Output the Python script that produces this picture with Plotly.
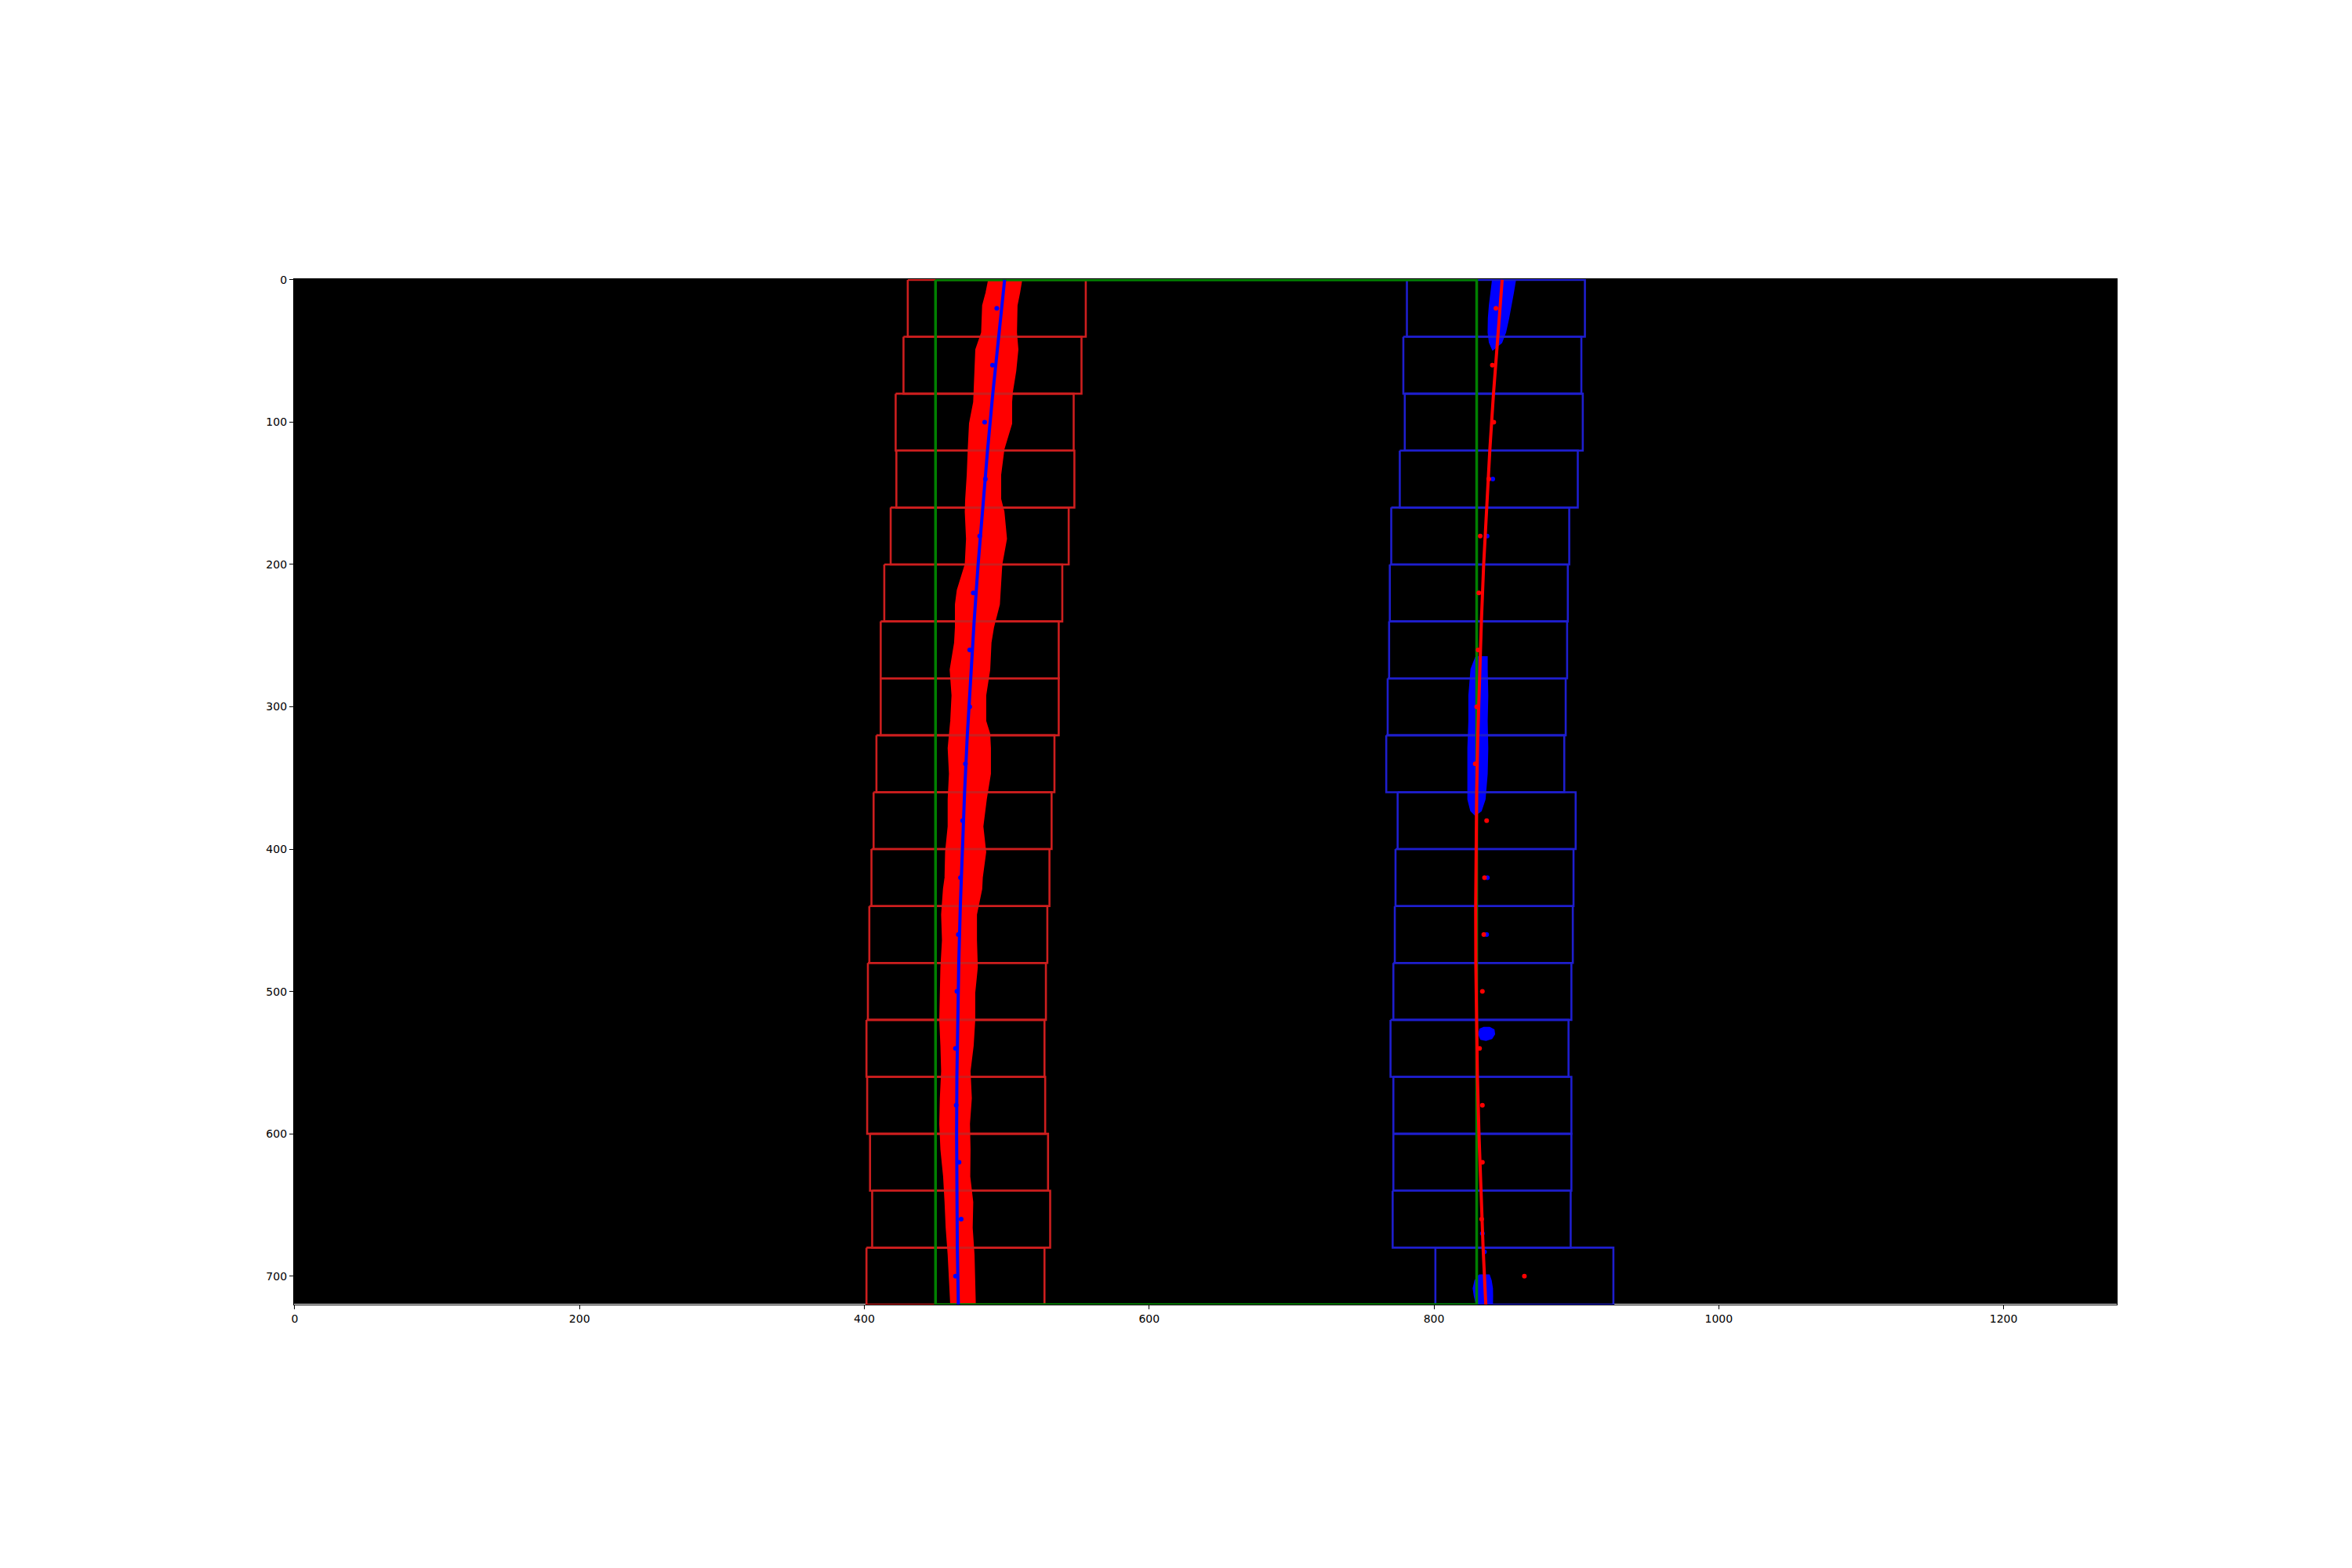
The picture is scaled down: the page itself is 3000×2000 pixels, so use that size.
import plotly.graph_objects as go

# ---------------- data ----------------
IMG_W, IMG_H = 1280, 720
WIN_H = 40
WIN_MARGIN = 62.5

# sliding-window centres (one per 40-px window, top to bottom)
left_centers = [493, 490, 484.5, 485, 481, 476.5, 474, 474, 471, 469,
                467.5, 466, 465, 464, 464.5, 466.5, 468, 464]
right_centers = [843.5, 841, 842, 838.5, 832.5, 831.5, 831, 830, 829, 837,
                 835.5, 835, 834, 832, 834, 834, 833.5, 863.5]
center_y = [20, 60, 100, 140, 180, 220, 260, 300, 340, 380,
            420, 460, 500, 540, 580, 620, 660, 700]

# extra blue dots seen on the right lane
right_blue_x = [841.3, 837.3, 837.5, 837.0, 834.0, 835.5]
right_blue_y = [140, 180, 420, 460, 670, 683]

# fitted polynomials sampled every 40 px
fit_y = [0, 40, 80, 120, 160, 200, 240, 280, 320, 360, 400, 440, 480,
         520, 560, 600, 640, 680, 720]
left_fit_x = [498.5, 494.2, 490.2, 486.5, 483.1, 479.9, 477.1, 474.6, 472.3,
              470.4, 468.7, 467.4, 466.3, 465.5, 465.0, 464.8, 464.9, 465.3, 466.0]
right_fit_x = [847.9, 844.7, 841.8, 839.2, 836.9, 834.9, 833.3, 831.9, 830.8,
               830.0, 829.5, 829.3, 829.4, 829.8, 830.5, 831.6, 832.9, 834.5, 836.4]

# left lane pixel band (edges)
lane_y = [0, 9, 18, 37, 49, 64, 79, 86, 101, 119, 137, 154, 163, 182, 200,
          218, 228, 244, 255, 274, 292, 310, 319, 329, 347, 365, 384, 402,
          420, 428, 446, 464, 483, 501, 520, 538, 556, 575, 593, 611, 630,
          648, 666, 685, 703, 720]
lane_left = [487.6, 485.8, 483.4, 482.7, 478.6, 477.8, 477.4, 477.1, 474.2,
             473.3, 472.6, 471.5, 471.2, 472.1, 471.2, 465.6, 464.3, 464.3,
             463.7, 460.6, 461.9, 461.0, 460.1, 459.2, 460.1, 459.2, 459.2,
             457.4, 457.0, 455.9, 454.6, 455.2, 454.1, 453.7, 453.3, 454.1,
             454.6, 453.7, 453.3, 454.1, 456.0, 457.0, 457.8, 459.2, 460.1, 461.0]
lane_right = [510.2, 508.7, 506.9, 506.5, 507.5, 506.0, 503.6, 503.1, 503.1,
              497.7, 495.4, 495.4, 497.7, 499.5, 496.2, 495.0, 494.5, 490.4,
              488.6, 487.7, 484.9, 484.9, 487.7, 488.2, 488.2, 485.3, 482.9,
              484.9, 482.5, 482.1, 478.4, 478.4, 479.0, 477.2, 477.2, 476.1,
              473.9, 474.8, 473.5, 473.9, 473.7, 475.8, 475.4, 476.7, 477.3, 477.6]

# right lane pixel blobs (outlines)
blob1_x = [841.3, 840.0, 839.1, 838.4, 838.2, 839.1, 841.3, 847.4, 850.1, 852.3, 854.1, 855.6, 857.1]
blob1_y = [0, 9, 18, 27, 37, 44, 49, 44, 37, 27, 18, 9, 0]
blob2_x = [829.5, 826.2, 824.7, 824.7, 824.0, 824.0, 824.0, 826.0, 829.0, 833.0, 835.7, 837.2, 837.6, 837.2, 837.6, 837.2, 837.2]
blob2_y = [265, 273.5, 292, 310, 329, 347, 365, 373, 376, 373, 365, 347, 329, 310, 292, 273.5, 265]
blob3_x = [831.4, 832.5, 835.0, 839.0, 842.0, 842.4, 840.5, 836.5, 833.0]
blob3_y = [529.8, 526.5, 525.4, 525.4, 527.0, 530.0, 533.0, 534.2, 533.5]
blob4_x = [831.7, 829.0, 827.7, 828.5, 830.0, 840.9, 841.0, 840.9, 840.0, 838.7]
blob4_y = [699.4, 703, 708.6, 714, 720, 720, 714, 708.6, 703, 699.4]

# green region polygon
green_x = [450, 830, 830, 450, 450]
green_y = [0, 0, 720, 720, 0]

x_ticks = [0, 200, 400, 600, 800, 1000, 1200]
y_ticks = [0, 100, 200, 300, 400, 500, 600, 700]

# ---------------- figure ----------------
fig = go.Figure()


def windows(centers):
    xs, ys = [], []
    for i, c in enumerate(centers):
        y0, y1 = i * WIN_H, (i + 1) * WIN_H
        xs += [c - WIN_MARGIN, c + WIN_MARGIN, c + WIN_MARGIN, c - WIN_MARGIN, c - WIN_MARGIN, None]
        ys += [y0, y0, y1, y1, y0, None]
    return xs, ys


# left lane band
fig.add_trace(go.Scatter(x=lane_left + lane_right[::-1], y=lane_y + lane_y[::-1],
                         fill='toself', fillcolor='#ff0000', mode='lines',
                         line=dict(color='#ff0000', width=2.5), hoverinfo='skip'))
for bx, by in [(blob1_x, blob1_y), (blob2_x, blob2_y), (blob3_x, blob3_y), (blob4_x, blob4_y)]:
    fig.add_trace(go.Scatter(x=bx + bx[:1], y=by + by[:1], fill='toself', fillcolor='#0000ff',
                             mode='lines', line=dict(color='#0000ff', width=2), hoverinfo='skip'))

# sliding windows
wx, wy = windows(left_centers)
fig.add_trace(go.Scatter(x=wx, y=wy, mode='lines', line=dict(color='rgb(205,30,30)', width=2.6)))
wx, wy = windows(right_centers)
fig.add_trace(go.Scatter(x=wx, y=wy, mode='lines', line=dict(color='rgb(30,30,205)', width=2.6)))

# green polygon
fig.add_trace(go.Scatter(x=green_x, y=green_y, mode='lines', line=dict(color='#008000', width=3.5)))

# dots
fig.add_trace(go.Scatter(x=right_blue_x, y=right_blue_y, mode='markers',
                         marker=dict(color='#0000ff', size=6)))
fig.add_trace(go.Scatter(x=left_centers, y=center_y, mode='markers',
                         marker=dict(color='#0000ff', size=6)))
fig.add_trace(go.Scatter(x=right_centers, y=center_y, mode='markers',
                         marker=dict(color='#ff0000', size=6)))

# fitted lines
fig.add_trace(go.Scatter(x=left_fit_x, y=fit_y, mode='lines', line=dict(color='#0000ff', width=4)))
fig.add_trace(go.Scatter(x=right_fit_x, y=fit_y, mode='lines', line=dict(color='#ff0000', width=4)))

fig.add_shape(type='rect', xref='x', yref='y', x0=-0.5, x1=IMG_W - 0.5, y0=-0.5, y1=IMG_H - 0.5,
              fillcolor='black', line=dict(width=0), layer='below')

axis_common = dict(showgrid=False, zeroline=False, showline=True, linecolor='black', linewidth=1.2,
                   mirror=True, ticks='outside', ticklen=5, tickwidth=1.1, tickcolor='black',
                   tickfont=dict(family='DejaVu Sans', size=14, color='black'))
fig.update_xaxes(range=[-0.5, IMG_W - 0.5], tickvals=x_ticks, **axis_common)
fig.update_yaxes(range=[IMG_H, -0.5], tickvals=y_ticks, **axis_common)

fig.update_layout(width=3000, height=2000, showlegend=False,
                  paper_bgcolor='white', plot_bgcolor='white',
                  margin=dict(l=375, r=300, t=356, b=336, pad=0))

fig.write_html("out.html")
